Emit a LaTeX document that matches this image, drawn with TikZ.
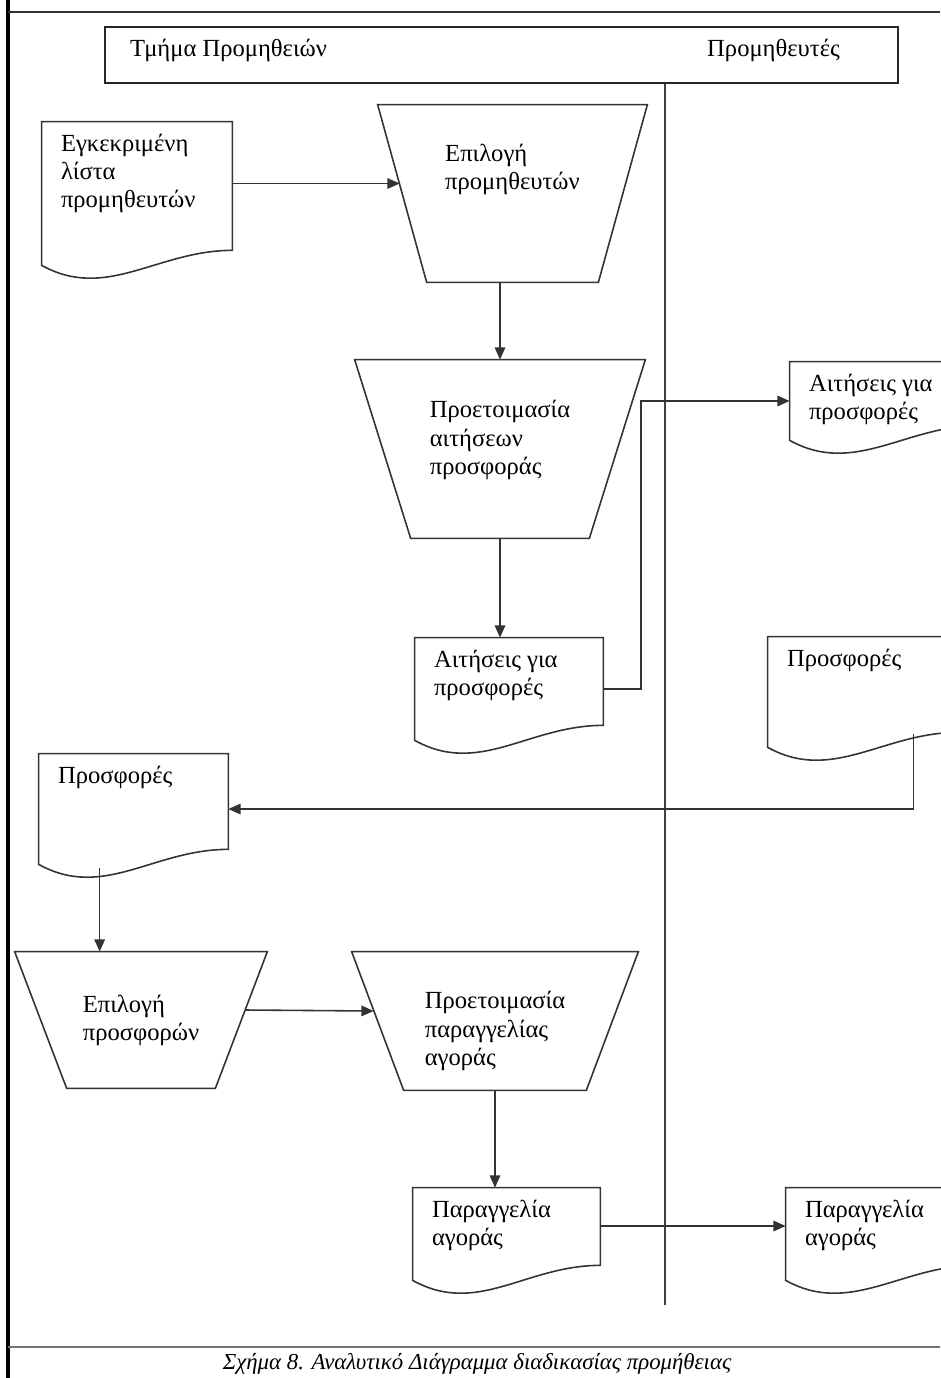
\documentclass[tikz,border=0pt]{standalone}
\usepackage{fontspec}
\setmainfont{Liberation Serif}
\usetikzlibrary{arrows.meta}
\newlength\pxu
\setlength\pxu{0.02cm}
\tikzset{
  flow/.style={line width=0.9pt, draw=black!80},
  arr/.style={flow, -{Triangle[length=7pt,width=6pt]}},
  docbox/.style={rectangle, inner sep=0pt},
  doctext/.style={anchor=north west, align=left, inner xsep=19\pxu, inner ysep=12\pxu},
  trapbox/.style={rectangle, inner sep=0pt},
  traptext/.style={align=left, inner sep=0pt}
}
% document symbol with wavy bottom
\newcommand{\docshape}[1]{%
  \draw[flow] (#1.north west) -- (#1.north east) -- ([yshift=15\pxu]#1.south east)
    .. controls +(-75,0) and +(65,36) .. (#1.south west) -- cycle;}
% manual operation (trapezoid)
\newcommand{\trapshape}[2]{%
  \draw[flow] (#1.north west) -- (#1.north east) -- ([xshift=-#2]#1.south east)
    -- ([xshift=#2]#1.south west) -- cycle;}
\begin{document}
\begin{tikzpicture}[x=0.02cm, y=-0.02cm, font=\fontsize{14}{16}\selectfont]
\useasboundingbox (0,0) rectangle (940,1378);
\fill[white] (0,0) rectangle (940,1378);
% page frame
\draw[line width=2pt, black] (8,0) -- (8,1378);
\draw[line width=1.5pt, black!80] (8,12) -- (940,12);
\draw[line width=1pt, black!55] (8,1347) -- (940,1347);
% header
\node[draw=black!85, line width=1.2pt, minimum width=793\pxu, minimum height=56\pxu] (hdr) at (501.5,55) {};
\node[anchor=west] (hdr-l) at ([xshift=20\pxu,yshift=5\pxu]hdr.west) {Τμήμα Προμηθειών};
\node[anchor=east] (hdr-r) at ([xshift=-53\pxu,yshift=5\pxu]hdr.east) {Προμηθευτές};
% divider
\coordinate (divend) at (665,1305);
\draw[line width=0.7pt, black!75] (hdr.south -| divend) -- (divend);
% approved list
\node[docbox, minimum width=190\pxu, minimum height=143\pxu] (doc1) at (137,193.5) {};
\docshape{doc1}
\node[doctext] (doc1-t) at (doc1.north west) {Εγκεκριμένη\\λίστα\\προμηθευτών};
% supplier selection
\node[trapbox, minimum width=269\pxu, minimum height=177\pxu] (trap1) at (512.5,193.5) {};
\trapshape{trap1}{49\pxu}
\node[traptext] (trap1-t) at ([yshift=24\pxu]trap1) {Επιλογή\\προμηθευτών};
% prepare requests
\node[trapbox, minimum width=290\pxu, minimum height=178\pxu] (trap2) at (500,449) {};
\trapshape{trap2}{56\pxu}
\node[traptext] (trap2-t) at ([yshift=9\pxu]trap2) {Προετοιμασία\\αιτήσεων\\προσφοράς};
% requests (ours)
\node[docbox, minimum width=188\pxu, minimum height=102\pxu] (doc2) at (509,689) {};
\docshape{doc2}
\node[doctext] (doc2-t) at (doc2.north west) {Αιτήσεις για\\προσφορές};
% requests (supplier)
\node[docbox, minimum width=190\pxu, minimum height=78\pxu] (doc3) at (885,401) {};
\docshape{doc3}
\node[doctext] (doc3-t) at (doc3.north west) {Αιτήσεις για\\προσφορές};
% offers (supplier)
\node[docbox, minimum width=190\pxu, minimum height=110\pxu] (doc4) at (863,692) {};
\docshape{doc4}
\node[doctext] (doc4-t) at (doc4.north west) {Προσφορές};
% offers (ours)
\node[docbox, minimum width=189\pxu, minimum height=110\pxu] (doc5) at (133.5,809) {};
\docshape{doc5}
\node[doctext] (doc5-t) at (doc5.north west) {Προσφορές};
% offer selection
\node[trapbox, minimum width=252\pxu, minimum height=136\pxu] (trap3) at (141,1020) {};
\trapshape{trap3}{52\pxu}
\node[traptext] (trap3-t) at (trap3) {Επιλογή\\προσφορών};
% prepare order
\node[trapbox, minimum width=286\pxu, minimum height=138\pxu] (trap4) at (495,1021) {};
\trapshape{trap4}{52\pxu}
\node[traptext] (trap4-t) at ([yshift=-10\pxu]trap4) {Προετοιμασία\\παραγγελίας\\αγοράς};
% purchase order (ours)
\node[docbox, minimum width=187\pxu, minimum height=92\pxu] (doc6) at (506.5,1234) {};
\docshape{doc6}
\node[doctext] (doc6-t) at (doc6.north west) {Παραγγελία\\αγοράς};
% purchase order (supplier)
\node[docbox, minimum width=190\pxu, minimum height=92\pxu] (doc7) at (881,1234) {};
\docshape{doc7}
\node[doctext] (doc7-t) at (doc7.north west) {Παραγγελία\\αγοράς};
% connectors
\draw[arr] ([yshift=10\pxu]doc1.east) -- ([xshift=22\pxu,yshift=10\pxu]trap1.west);
\draw[arr] (trap1.south -| trap2.north) -- (trap2.north);
\draw[arr] (trap2.south) -- (trap2.south |- doc2.north);
\coordinate (bend) at (641,0);
\draw[arr] (doc2.east) -| (bend |- doc3.west) -- (doc3.west);
\coordinate (c4) at ([xshift=-45\pxu,yshift=13\pxu]doc4.south east);
\draw[arr] (c4) |- (doc5.east);
\coordinate (c5) at ([xshift=61\pxu,yshift=-4\pxu]doc5.south west);
\draw[arr] (c5) -- (c5 |- trap3.north);
\draw[arr] ([xshift=-22\pxu,yshift=10\pxu]trap3.east) -- ([xshift=22\pxu,yshift=10\pxu]trap4.west);
\draw[arr] (trap4.south) -- (trap4.south |- doc6.north);
\draw[arr] ([yshift=8\pxu]doc6.east) -- ([yshift=8\pxu]doc7.west);
% caption
\node[font=\fontsize{13}{15}\selectfont\itshape, anchor=base] (cap) at (477,1369) {Σχήμα 8. Αναλυτικό Διάγραμμα διαδικασίας προμήθειας};
\end{tikzpicture}
\end{document}
